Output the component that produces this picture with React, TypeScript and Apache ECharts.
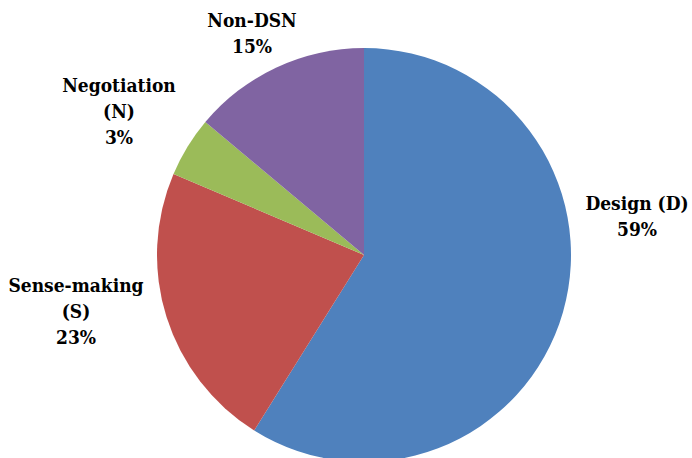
import React, { useEffect, useRef } from "react";
import * as echarts from "echarts";

const categories = ["Design (D)", "Sense-making\n(S)", "Negotiation\n(N)", "Non-DSN"];
const sliceValues = [58.9, 22.5, 4.7, 13.9];
const percentLabels = ["59%", "23%", "3%", "15%"];
const colors = ["#4F81BD", "#C0504D", "#9BBB59", "#8064A2"];
const labelPositions: [number, number][] = [
  [637, 216],
  [76, 311],
  [119, 111],
  [252, 33],
];

const FONT = "'DejaVu Serif Condensed', 'DejaVu Serif'";

export default function App() {
  const ref = useRef<HTMLDivElement>(null);
  useEffect(() => {
    document.body.style.margin = "0";
    const chart = echarts.init(ref.current!, undefined, { renderer: "svg" });
    chart.setOption({
      animation: false,
      backgroundColor: "#ffffff",
      series: [
        {
          type: "pie",
          center: [364, 255],
          radius: 207,
          startAngle: 90,
          clockwise: true,
          data: categories.map((c, i) => ({
            name: c,
            value: sliceValues[i],
            itemStyle: { color: colors[i] },
          })),
          label: {
            show: true,
            position: "outside",
            overflow: "none",
            formatter: (p: any) => `${p.name}\n${percentLabels[p.dataIndex]}`,
            fontFamily: FONT,
            fontWeight: "bold",
            fontSize: 19,
            lineHeight: 26,
            color: "#000000",
            align: "center",
          },
          labelLine: { show: false },
          labelLayout: (params: any) => {
            const pos = labelPositions[params.dataIndex];
            return { x: pos[0], y: pos[1], align: "center", verticalAlign: "middle" };
          },
          itemStyle: { borderWidth: 0 },
          emphasis: { disabled: true },
        },
      ],
    });
    return () => chart.dispose();
  }, []);
  return (
    <div
      ref={ref}
      style={{ width: 692, height: 458, position: "absolute", left: 0, top: 0 }}
    />
  );
}
